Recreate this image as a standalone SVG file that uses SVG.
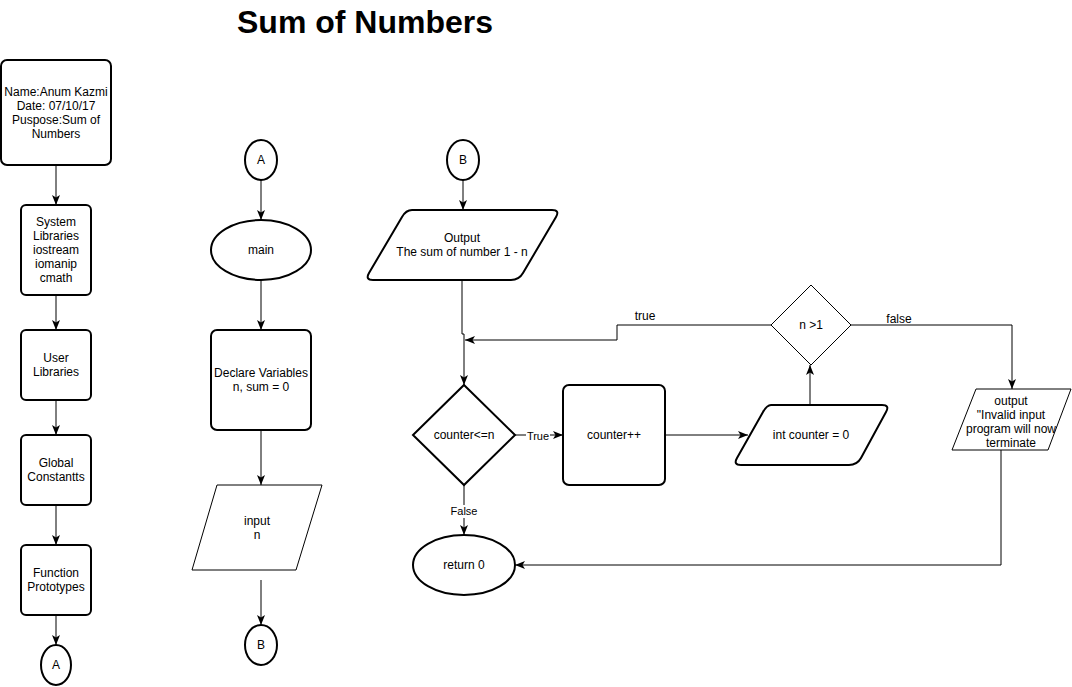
<svg xmlns="http://www.w3.org/2000/svg" width="1072" height="687" viewBox="0 0 1072 687">
<style>
text{font-family:"Liberation Sans",Arial,sans-serif;font-size:12px;fill:#000;text-anchor:middle}
.title{font-size:32px;font-weight:bold}
.lbl{font-size:11px}
.lbl12{font-size:12px}
.thick{fill:#fff;stroke:#000;stroke-width:2}
.thin{fill:#fff;stroke:#000;stroke-width:1}
.edge{fill:none;stroke:#000;stroke-width:1}
</style>
<defs>
<marker id="arr" markerUnits="userSpaceOnUse" markerWidth="10" markerHeight="8" refX="10" refY="4" orient="auto">
<path d="M0,0 L10,4 L0,8 L2.5,4 Z" fill="#000"/>
</marker>
</defs>
<rect width="1072" height="687" fill="#fff"/>
<text class="title" x="365" y="33">Sum of Numbers</text>

<g id="connectors">
<path class="edge" d="M56,165 V205" marker-end="url(#arr)"/>
<path class="edge" d="M56,295 V330" marker-end="url(#arr)"/>
<path class="edge" d="M56,400 V435" marker-end="url(#arr)"/>
<path class="edge" d="M56,505 V545" marker-end="url(#arr)"/>
<path class="edge" d="M56,615 V645" marker-end="url(#arr)"/>
<path class="edge" d="M261,180 V220" marker-end="url(#arr)"/>
<path class="edge" d="M261,280 V330" marker-end="url(#arr)"/>
<path class="edge" d="M261,430 V485" marker-end="url(#arr)"/>
<path class="edge" d="M261,580 V625" marker-end="url(#arr)"/>
<path class="edge" d="M463,180 V210" marker-end="url(#arr)"/>
<path class="edge" d="M462,280 V334 H464 V385" marker-end="url(#arr)"/>
<path class="edge" d="M515,435 H563" marker-end="url(#arr)"/>
<path class="edge" d="M464,485 V535" marker-end="url(#arr)"/>
<path class="edge" d="M665,435 H748" marker-end="url(#arr)"/>
<path class="edge" d="M810,405 V365" marker-end="url(#arr)"/>
<path class="edge" d="M771,325 H617 V340 H465" marker-end="url(#arr)"/>
<path class="edge" d="M851,325 H1012 V389" marker-end="url(#arr)"/>
<path class="edge" d="M1001,450 V565 H515" marker-end="url(#arr)"/>
<rect x="526" y="429" width="24" height="13" fill="#fff"/>
<text class="lbl" x="538" y="440">True</text>
<rect x="450" y="505" width="28" height="13" fill="#fff"/>
<text class="lbl" x="464" y="515">False</text>
<text class="lbl12" x="645" y="320">true</text>
<text class="lbl12" x="899" y="323">false</text>
</g>

<g id="header">
<rect class="thick" x="1" y="60" width="110" height="105" rx="6"/>
<text x="56" y="95.5">Name:Anum Kazmi</text>
<text x="56" y="109.5">Date: 07/10/17</text>
<text x="56" y="123.5">Puspose:Sum of</text>
<text x="56" y="137.5">Numbers</text>
</g>
<g id="syslib">
<rect class="thick" x="21" y="205" width="70" height="90" rx="5"/>
<text x="56" y="226">System</text>
<text x="56" y="240">Libraries</text>
<text x="56" y="254">iostream</text>
<text x="56" y="268">iomanip</text>
<text x="56" y="282">cmath</text>
</g>
<g id="userlib">
<rect class="thick" x="21" y="330" width="70" height="70" rx="5"/>
<text x="56" y="362">User</text>
<text x="56" y="376">Libraries</text>
</g>
<g id="globals">
<rect class="thick" x="21" y="435" width="70" height="70" rx="5"/>
<text x="56" y="467">Global</text>
<text x="56" y="481">Constantts</text>
</g>
<g id="protos">
<rect class="thick" x="21" y="545" width="70" height="70" rx="5"/>
<text x="56" y="577">Function</text>
<text x="56" y="591">Prototypes</text>
</g>
<g id="connA1">
<ellipse class="thick" cx="56" cy="665" rx="15" ry="20"/>
<text x="56" y="669">A</text>
</g>

<g id="connA2">
<ellipse class="thick" cx="261" cy="160" rx="16" ry="20"/>
<text x="261" y="164">A</text>
</g>
<g id="main">
<ellipse class="thick" cx="261" cy="250" rx="50" ry="30"/>
<text x="261" y="254">main</text>
</g>
<g id="declare">
<rect class="thick" x="211" y="330" width="100" height="100" rx="6"/>
<text x="261" y="377">Declare Variables</text>
<text x="261" y="391">n, sum = 0</text>
</g>
<g id="input">
<polygon class="thin" points="217,485 322,485 296,570 192,570"/>
<text x="257" y="525">input</text>
<text x="257" y="539">n</text>
</g>
<g id="connB1">
<ellipse class="thick" cx="261" cy="645" rx="16" ry="20"/>
<text x="261" y="649">B</text>
</g>

<g id="connB2">
<ellipse class="thick" cx="463" cy="160" rx="16" ry="20"/>
<text x="463" y="164">B</text>
</g>
<g id="output">
<path class="thick" d="M412,210 H552 Q560,210 556,217 L523,273 Q519,280 511,280 H373 Q365,280 369,273 L402,217 Q406,210 412,210 Z"/>
<text x="462" y="242">Output</text>
<text x="462" y="256">The sum of number 1 - n</text>
</g>
<g id="cond">
<polygon class="thick" points="464,385 515,435 464,485 413,435"/>
<text x="464" y="439">counter&lt;=n</text>
</g>
<g id="incr">
<rect class="thick" x="563" y="385" width="102" height="100" rx="6"/>
<text x="614" y="439">counter++</text>
</g>
<g id="ret">
<ellipse class="thick" cx="464" cy="565" rx="51" ry="30"/>
<text x="464" y="569">return 0</text>
</g>
<g id="intcounter">
<path class="thick" d="M771,405 H882 Q890,405 886,412 L861,458 Q857,465 849,465 H741 Q733,465 737,458 L763,412 Q767,405 771,405 Z"/>
<text x="811" y="439">int counter = 0</text>
</g>
<g id="check">
<polygon class="thin" points="811,285 851,325 811,365 771,325"/>
<text x="811" y="329">n &gt;1</text>
</g>
<g id="invalid">
<polygon class="thin" points="976,389 1071,389 1048,450 952,450"/>
<text x="1011" y="405">output</text>
<text x="1011" y="419">"Invalid input</text>
<text x="1011" y="433">program will now</text>
<text x="1011" y="447">terminate</text>
</g>
</svg>
